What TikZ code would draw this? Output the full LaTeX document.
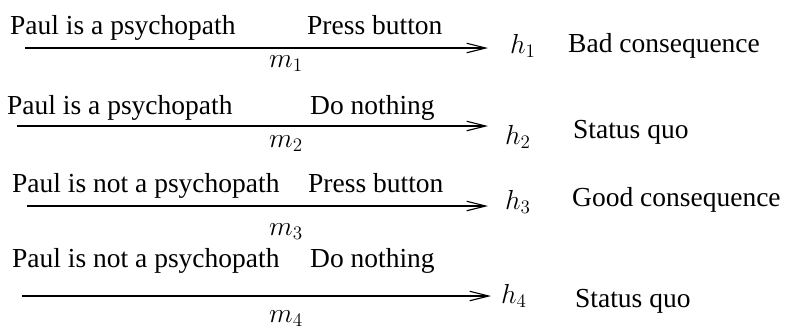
\documentclass[tikz,border=0pt]{standalone}
\usepackage{fontspec}
\setmainfont{Liberation Serif}
\usetikzlibrary{arrows.meta}
\newcommand\mathbig[1]{\scalebox{1.326}{\fontsize{20.74}{25}\selectfont$#1$}}
\begin{document}
\begin{tikzpicture}[x=1pt,y=-1pt,
  lbl/.style={inner sep=0pt,anchor=base west,font=\fontsize{27.5}{32}\selectfont},
  mlbl/.style={inner sep=0pt,anchor=base,font=\fontsize{27.5}{32}\selectfont},
  arr/.style={line width=1.1pt,-{Straight Barb[length=19pt,width=9.5pt,line width=1.1pt]}}]
\useasboundingbox (0,0) rectangle (787,327);
% row 1
\node[lbl] (p1) at (10,34) {Paul is a psychopath};
\node[lbl] (a1) at (307,34) {Press button};
\node[mlbl] (m1) at (286,67) {\mathbig{m_1}};
\node[lbl] (h1) at (510,53) {\mathbig{h_1}};
\node[lbl] (c1) at (568,52) {Bad consequence};
\coordinate (s1) at (25,48);
\coordinate (t1) at (488,48);
\draw[arr] (s1) -- (t1);
% row 2
\node[lbl] (p2) at (7,114) {Paul is a psychopath};
\node[lbl] (a2) at (310,114) {Do nothing};
\node[mlbl] (m2) at (286,147) {\mathbig{m_2}};
\node[lbl] (h2) at (505,144) {\mathbig{h_2}};
\node[lbl] (c2) at (573,138) {Status quo};
\coordinate (s2) at (17,126);
\coordinate (t2) at (488,126);
\draw[arr] (s2) -- (t2);
% row 3
\node[lbl] (p3) at (12,192) {Paul is not a psychopath};
\node[lbl] (a3) at (308,192) {Press button};
\node[mlbl] (m3) at (286,235) {\mathbig{m_3}};
\node[lbl] (h3) at (505,209) {\mathbig{h_3}};
\node[lbl] (c3) at (572,206) {Good consequence};
\coordinate (s3) at (27,206);
\coordinate (t3) at (488,206);
\draw[arr] (s3) -- (t3);
% row 4
\node[lbl] (p4) at (12,267) {Paul is not a psychopath};
\node[lbl] (a4) at (310,267) {Do nothing};
\node[mlbl] (m4) at (286,322) {\mathbig{m_4}};
\node[lbl] (h4) at (501,303) {\mathbig{h_4}};
\node[lbl] (c4) at (575,307) {Status quo};
\coordinate (s4) at (22,296);
\coordinate (t4) at (491,296);
\draw[arr] (s4) -- (t4);
\end{tikzpicture}
\end{document}
